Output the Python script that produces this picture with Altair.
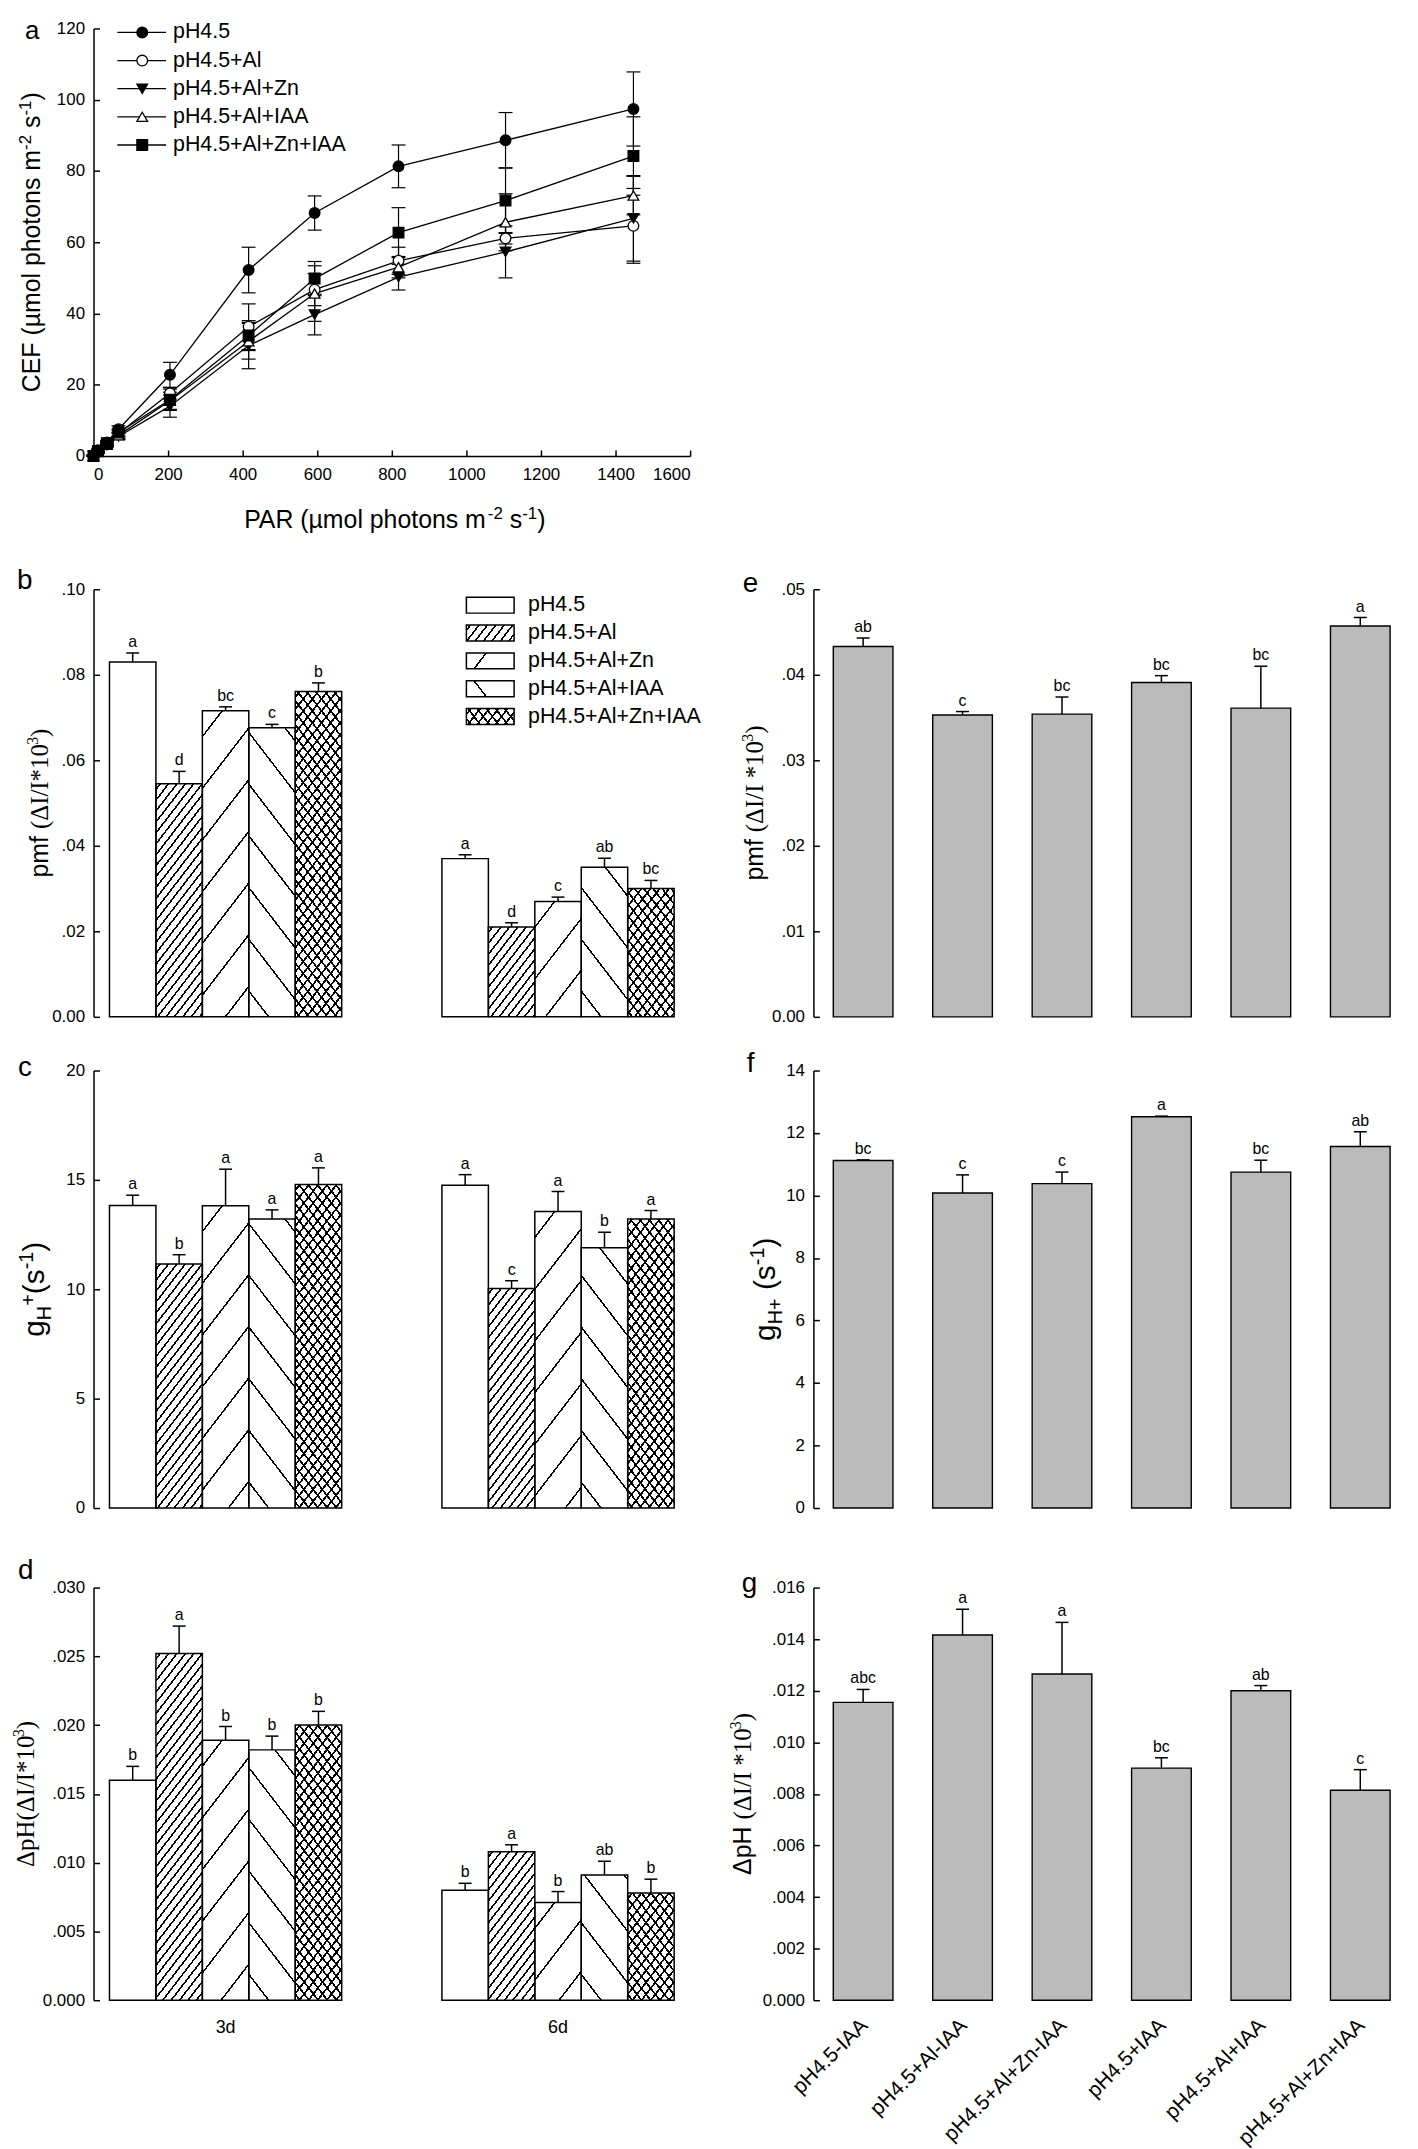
import altair as alt

SANS = "Liberation Sans"
SERIF = "Liberation Serif"

# ---------------- data ----------------
SERIES = ["pH4.5", "pH4.5+Al", "pH4.5+Al+Zn", "pH4.5+Al+IAA", "pH4.5+Al+Zn+IAA"]
PAR = [0, 12, 36, 67, 205, 416, 593, 818, 1105, 1448]
CEF_PH45 = [0, 1.6, 3.8, 7.5, 22.8, 52.2, 68.2, 81.3, 88.6, 97.4]
CEF_AL = [0, 1.3, 3.4, 6.3, 17.6, 36.3, 46.7, 54.8, 61.1, 64.6]
CEF_ZN = [0, 1.0, 3.0, 5.5, 14.0, 31.0, 39.7, 50.2, 57.3, 66.7]
CEF_IAA = [0, 1.1, 3.2, 5.8, 15.5, 32.2, 45.6, 53.0, 65.6, 73.1]
CEF_ZNIAA = [0, 1.4, 3.6, 6.6, 15.8, 33.8, 49.8, 62.7, 71.7, 84.2]
ERR_PH45 = [0.2, 0.4, 0.6, 1.0, 3.5, 6.4, 4.8, 6.0, 7.8, 10.4]
ERR_AL = [0.2, 0.4, 0.6, 0.9, 1.6, 6.4, 4.5, 3.8, 1.6, 10.5]
ERR_ZN = [0.2, 0.3, 0.5, 0.9, 3.1, 6.5, 5.7, 3.6, 7.3, 12.0]
ERR_IAA = [0.2, 0.3, 0.5, 0.9, 2.4, 5.0, 7.8, 3.0, 8.0, 5.4]
ERR_ZNIAA = [0.2, 0.4, 0.6, 1.0, 3.0, 4.2, 4.8, 7.0, 9.2, 11.0]

DAYS = ["3d", "6d"]
PMF_3D = [0.0830, 0.0545, 0.0716, 0.0676, 0.0761]
PMF_3D_ERR = [0.0021, 0.0029, 0.0009, 0.0008, 0.0020]
PMF_3D_LET = ["a", "d", "bc", "c", "b"]
PMF_6D = [0.0370, 0.0210, 0.0270, 0.0350, 0.0300]
PMF_6D_ERR = [0.0009, 0.0010, 0.0010, 0.0021, 0.0019]
PMF_6D_LET = ["a", "d", "c", "ab", "bc"]

GH_3D = [13.83, 11.16, 13.82, 13.21, 14.79]
GH_3D_ERR = [0.47, 0.42, 1.67, 0.42, 0.76]
GH_3D_LET = ["a", "b", "a", "a", "a"]
GH_6D = [14.76, 10.03, 13.55, 11.90, 13.21]
GH_6D_ERR = [0.48, 0.36, 0.92, 0.71, 0.39]
GH_6D_LET = ["a", "c", "a", "b", "a"]

DPH_3D = [0.0160, 0.0252, 0.0189, 0.0182, 0.0200]
DPH_3D_ERR = [0.0010, 0.0020, 0.0010, 0.0010, 0.0010]
DPH_3D_LET = ["b", "a", "b", "b", "b"]
DPH_6D = [0.0080, 0.0108, 0.0071, 0.0091, 0.0078]
DPH_6D_ERR = [0.0005, 0.0005, 0.0008, 0.0010, 0.0010]
DPH_6D_LET = ["b", "a", "b", "ab", "b"]

COND = ["pH4.5-IAA", "pH4.5+Al-IAA", "pH4.5+Al+Zn-IAA", "pH4.5+IAA", "pH4.5+Al+IAA", "pH4.5+Al+Zn+IAA"]
PMF_E = [0.0433, 0.0353, 0.0354, 0.0391, 0.0361, 0.0457]
PMF_E_ERR = [0.0010, 0.0004, 0.0020, 0.0008, 0.0049, 0.0010]
PMF_E_LET = ["ab", "c", "bc", "bc", "bc", "a"]
GH_F = [11.12, 10.08, 10.38, 12.52, 10.75, 11.57]
GH_F_ERR = [0.02, 0.58, 0.37, 0.02, 0.38, 0.47]
GH_F_LET = ["bc", "c", "c", "a", "bc", "ab"]
DPH_G = [0.01155, 0.01416, 0.01265, 0.00900, 0.01200, 0.00814]
DPH_G_ERR = [0.0005, 0.0010, 0.0020, 0.0004, 0.0002, 0.0008]
DPH_G_LET = ["abc", "a", "a", "bc", "ab", "c"]

# ---------------- layout constants ----------------
W = 600
H_A, H_B, H_C, H_D = 430, 430, 440, 415
ONE = alt.Data(values=[{"k": 0}])

AW = {' ': 278, '(': 333, ')': 333, '+': 584, '-': 333, '*': 389, '/': 278, '.': 278,
      'A': 667, 'C': 722, 'E': 667, 'F': 611, 'H': 722, 'I': 278, 'P': 667, 'R': 722,
      'a': 556, 'c': 500, 'f': 278, 'g': 556, 'h': 556, 'l': 222, 'm': 833, 'n': 556,
      'o': 556, 'p': 556, 's': 500, 't': 278, 'µ': 576, 'Δ': 668}
TW = {' ': 250, '(': 333, ')': 333, '*': 500, '/': 278, 'I': 333, 'Δ': 612, 'p': 500, 'H': 722}


def tw(text, font, size):
    tab = AW if font == SANS else TW
    dflt = 556 if font == SANS else 500
    return sum(tab.get(ch, dflt) for ch in text) * size / 1000.0


def rich(pieces, x, y, angle=270):
    total = sum(tw(t, f, s) for t, f, s, d in pieces)
    pos = -total / 2.0
    out = []
    for t, f, s, d in pieces:
        lead = len(t) - len(t.lstrip(' '))
        body = t.strip(' ')
        off = pos + tw(' ' * lead, f, s)
        out.append(alt.Chart(ONE).mark_text(
            text=body, font=f, fontSize=s, align='left', baseline='alphabetic',
            angle=angle, dx=off, dy=d, color='black').encode(x=alt.value(x), y=alt.value(y)))
        pos += tw(t, f, s)
    return out


def letter(ch, x, y, size=28):
    return alt.Chart(ONE).mark_text(text=ch, font=SANS, fontSize=size, align='left',
                                    baseline='middle', color='black').encode(
        x=alt.value(x), y=alt.value(y))


SLOPE = 1.3  # hatch steepness (dy/dx)


def stripes(w, h, period, kind, bg, thick):
    s = SLOPE
    L = s * w + h
    k = L / (s * s * w * w + h * h)
    if kind == "/":
        g = {"x1": 0, "y1": 0, "x2": s * k * w, "y2": k * h}
    else:
        g = {"x1": 0, "y1": 1, "x2": s * k * w, "y2": 1 - k * h}
    stops = []
    i = 0
    while True:
        c = (i + 0.5) * period
        s0 = (c - thick / 2.0) / L
        s1 = (c + thick / 2.0) / L
        if s0 >= 1:
            break
        s0 = round(max(s0, 0), 5)
        s1 = round(min(s1, 1), 5)
        stops += [{"offset": s0, "color": bg}, {"offset": s0, "color": "black"},
                  {"offset": s1, "color": "black"}, {"offset": s1, "color": bg}]
        i += 1
    if not stops:
        stops = [{"offset": 0, "color": bg}, {"offset": 1, "color": bg}]
    g["gradient"] = "linear"
    g["stops"] = stops
    return g


def hatch(t, w, h):
    h = max(h, 1.0)
    if t == "pH4.5":
        return "white", "transparent"
    if t == "pH4.5+Al":
        return stripes(w, h, 11, "/", "white", 2.6), "transparent"
    if t == "pH4.5+Al+Zn":
        return stripes(w, h, 52, "/", "white", 2.5), "transparent"
    if t == "pH4.5+Al+IAA":
        return stripes(w, h, 52, "\\", "white", 2.5), "transparent"
    return stripes(w, h, 12, "/", "white", 2.8), stripes(w, h, 12, "\\", "transparent", 2.8)


def lab_expr(fmt, zero):
    return "datum.value == 0 ? '%s' : replace(format(datum.value, '%s'), '0.', '.')" % (zero, fmt)


def y_axes(field, scale, ticks, expr):
    if expr:
        main = alt.Axis(orient='left', values=ticks, ticks=False, tickSize=0, labelPadding=9,
                        domain=True, grid=False, title=None, labelExpr=expr)
    else:
        main = alt.Axis(orient='left', values=ticks, ticks=False, tickSize=0, labelPadding=9,
                        domain=True, grid=False, title=None, format='d')
    tick = alt.Axis(orient='right', offset=-W, values=ticks, ticks=True, tickSize=6,
                    labels=False, domain=False, grid=False, title=None)
    return (alt.Y(field, scale=scale, axis=main), alt.Y(field, scale=scale, axis=tick))


# ---------------- panel a ----------------
def panel_a():
    H = H_A
    recs = []
    for s, vals, errs in zip(SERIES, [CEF_PH45, CEF_AL, CEF_ZN, CEF_IAA, CEF_ZNIAA],
                             [ERR_PH45, ERR_AL, ERR_ZN, ERR_IAA, ERR_ZNIAA]):
        for p, v, e in zip(PAR, vals, errs):
            recs.append({"series": s, "par": p, "val": v, "lo": max(v - e, 0), "hi": v + e})
    base = alt.Chart(alt.Data(values=recs))
    xs = alt.Scale(domain=[0, 1600], nice=False)
    ys = alt.Scale(domain=[0, 120], nice=False)
    xt = list(range(0, 1601, 200))
    yt = list(range(0, 121, 20))
    X_main = alt.X('par:Q', scale=xs, axis=alt.Axis(orient='bottom', values=xt, ticks=False, tickSize=0,
                                                    labelPadding=11, domain=True, grid=False, title=None,
                                                    format='d'))
    X_tick = alt.X('par:Q', scale=xs, axis=alt.Axis(orient='top', offset=-H, values=xt, ticks=True, tickSize=6,
                                                    labels=False, domain=False, grid=False, title=None))
    X_none = alt.X('par:Q', scale=xs, axis=None)
    Y_main, Y_tick = y_axes('val:Q', ys, yt, None)

    shape_s = alt.Scale(domain=SERIES, range=['circle', 'circle', 'triangle-down', 'triangle-up', 'square'])
    fill_s = alt.Scale(domain=SERIES, range=['black', 'white', 'black', 'white', 'black'])
    size_s = alt.Scale(domain=SERIES, range=[115, 115, 125, 125, 95])

    err = base.mark_rule(color='black', strokeWidth=1.2).encode(
        x=X_none, y=alt.Y('lo:Q', scale=ys, axis=None), y2='hi:Q')
    cap_hi = base.mark_tick(orient='horizontal', size=14, thickness=1.2, color='black', opacity=1).encode(
        x=X_none, y=alt.Y('hi:Q', scale=ys, axis=None))
    cap_lo = base.mark_tick(orient='horizontal', size=14, thickness=1.2, color='black', opacity=1).encode(
        x=X_none, y=alt.Y('lo:Q', scale=ys, axis=None))
    lines = base.mark_line(color='black', strokeWidth=1.3).encode(
        x=X_main, y=Y_main, detail='series:N')
    pts = base.mark_point(filled=True, stroke='black', strokeWidth=1.3, opacity=1).encode(
        x=X_tick, y=Y_tick,
        shape=alt.Shape('series:N', scale=shape_s, legend=None),
        fill=alt.Fill('series:N', scale=fill_s, legend=None),
        size=alt.Size('series:N', scale=size_s, legend=None))

    leg = alt.Chart(alt.Data(values=[{"series": s, "i": i} for i, s in enumerate(SERIES)])).transform_calculate(
        ly='4 + 28.3 * datum.i')
    leg_line = leg.mark_rule(color='black', strokeWidth=1.3).encode(
        x=alt.value(24), x2=alt.value(73), y=alt.Y('ly:Q', scale=None, axis=None))
    leg_pts = leg.mark_point(filled=True, stroke='black', strokeWidth=1.3, opacity=1).encode(
        x=alt.value(49), y=alt.Y('ly:Q', scale=None, axis=None),
        shape=alt.Shape('series:N', scale=shape_s, legend=None),
        fill=alt.Fill('series:N', scale=fill_s, legend=None),
        size=alt.Size('series:N', scale=size_s, legend=None))
    leg_txt = leg.mark_text(align='left', baseline='middle', font=SANS, fontSize=21.5, color='black').encode(
        x=alt.value(80), y=alt.Y('ly:Q', scale=None, axis=None), text='series:N')

    sup = 17
    ytitle = rich([("CEF (µmol photons m", SANS, 25, 0), ("-2", SANS, sup, -9), (" s", SANS, 25, 0),
                   ("-1", SANS, sup, -9), (")", SANS, 25, 0)], -54, H / 2, 270)
    xtitle = rich([("PAR (µmol photons m", SANS, 25, 0), ("-2", SANS, sup, -9), (" s", SANS, 25, 0),
                   ("-1", SANS, sup, -9), (")", SANS, 25, 0)], 303, H + 72, 0)
    layers = [err, cap_hi, cap_lo, lines, pts, leg_line, leg_pts, leg_txt] + ytitle + xtitle + \
        [letter("a", -69, 3, 26)]
    return alt.layer(*layers).resolve_axis(x='independent', y='independent').properties(width=W, height=H)


# ---------------- grouped bar panels (b, c, d) ----------------
PI_G, PO_G = 0.3015, 0.048


def grouped(H, v3, e3, l3, v6, e6, l6, ymax, yt, expr, title, tx, lch, lx, ly, xlabels, legend):
    stepx = W / (2 - PI_G + 2 * PO_G)
    bw = stepx * (1 - PI_G) / 5.0
    recs = []
    for day, vals, errs, lets in ((DAYS[0], v3, e3, l3), (DAYS[1], v6, e6, l6)):
        for t, v, e, l in zip(SERIES, vals, errs, lets):
            g1, g2 = hatch(t, bw, v / ymax * H)
            recs.append({"day": day, "trt": t, "val": v, "hi": v + e, "let": l, "g1": g1, "g2": g2})
    base = alt.Chart(alt.Data(values=recs))
    xs = alt.Scale(domain=DAYS, paddingInner=PI_G, paddingOuter=PO_G)
    X_main = alt.X('day:N', scale=xs, sort=DAYS,
                   axis=alt.Axis(orient='bottom', ticks=False, tickSize=0, domain=True, labels=False,
                                 grid=False, title=None))
    X_none = alt.X('day:N', scale=xs, sort=DAYS, axis=None)
    XO = alt.XOffset('trt:N', scale=alt.Scale(domain=SERIES, paddingInner=0, paddingOuter=0), sort=SERIES)
    ys = alt.Scale(domain=[0, ymax], nice=False, zero=True)
    Y_main, Y_tick = y_axes('val:Q', ys, yt, expr)

    l_fill = base.mark_bar(strokeWidth=0).encode(x=X_main, xOffset=XO, y=Y_main,
                                                 fill=alt.Fill('g1:N', scale=None))
    l_out = base.mark_bar(stroke='black', strokeWidth=1.5).encode(x=X_none, xOffset=XO, y=Y_tick,
                                                                  fill=alt.Fill('g2:N', scale=None))
    l_err = base.mark_rule(color='black', strokeWidth=1.5).encode(
        x=X_none, xOffset=XO, y=alt.Y('val:Q', scale=ys, axis=None), y2='hi:Q')
    l_cap = base.mark_tick(orient='horizontal', size=13, thickness=1.5, color='black', opacity=1).encode(
        x=X_none, xOffset=XO, y=alt.Y('hi:Q', scale=ys, axis=None))
    l_let = base.mark_text(baseline='bottom', dy=-3, font=SANS, fontSize=16, color='black').encode(
        x=X_none, xOffset=XO, y=alt.Y('hi:Q', scale=ys, axis=None), text='let:N')
    layers = [l_fill, l_out, l_err, l_cap, l_let]

    if xlabels:
        layers.append(alt.Chart(alt.Data(values=[{"day": d} for d in DAYS])).mark_text(
            baseline='middle', font=SANS, fontSize=18, color='black').encode(
            x=X_none, y=alt.value(H + 28), text='day:N'))

    if legend:
        lrecs = []
        for i, t in enumerate(SERIES):
            g1, g2 = hatch(t, 48, 16)
            lrecs.append({"name": t, "i": i, "g1": g1, "g2": g2})
        lb = alt.Chart(alt.Data(values=lrecs)).transform_calculate(
            y0='8 + 28 * datum.i', y1='24 + 28 * datum.i', yc='16 + 28 * datum.i')
        layers.append(lb.mark_rect(strokeWidth=0).encode(
            x=alt.value(375), x2=alt.value(423), y=alt.Y('y0:Q', scale=None, axis=None), y2='y1:Q',
            fill=alt.Fill('g1:N', scale=None)))
        layers.append(lb.mark_rect(stroke='black', strokeWidth=1.5).encode(
            x=alt.value(375), x2=alt.value(423), y=alt.Y('y0:Q', scale=None, axis=None), y2='y1:Q',
            fill=alt.Fill('g2:N', scale=None)))
        layers.append(lb.mark_text(align='left', baseline='middle', font=SANS, fontSize=21.5, color='black').encode(
            x=alt.value(437), y=alt.Y('yc:Q', scale=None, axis=None), text='name:N'))

    layers += rich(title, tx, H / 2, 270)
    layers.append(letter(lch, lx, ly))
    return alt.layer(*layers).resolve_axis(y='independent').properties(width=W, height=H)


# ---------------- single bar panels (e, f, g) ----------------
def single(H, vals, errs, lets, ymax, yt, expr, title, tx, lch, lx, ly, xlabels):
    recs = [{"cond": c, "val": v, "hi": v + e, "let": l} for c, v, e, l in zip(COND, vals, errs, lets)]
    base = alt.Chart(alt.Data(values=recs))
    xs = alt.Scale(domain=COND, paddingInner=0.4, paddingOuter=0.2)
    X_main = alt.X('cond:N', scale=xs, sort=COND,
                   axis=alt.Axis(orient='bottom', ticks=False, tickSize=0, domain=True, labels=False,
                                 grid=False, title=None))
    X_none = alt.X('cond:N', scale=xs, sort=COND, axis=None)
    ys = alt.Scale(domain=[0, ymax], nice=False, zero=True)
    Y_main, Y_tick = y_axes('val:Q', ys, yt, expr)
    bars = base.mark_bar(fill='#bbbbbb', strokeWidth=0).encode(x=X_main, y=Y_main)
    outl = base.mark_bar(fillOpacity=0, stroke='black', strokeWidth=1.4).encode(x=X_none, y=Y_tick)
    l_err = base.mark_rule(color='black', strokeWidth=1.5).encode(
        x=X_none, y=alt.Y('val:Q', scale=ys, axis=None), y2='hi:Q')
    l_cap = base.mark_tick(orient='horizontal', size=13, thickness=1.5, color='black', opacity=1).encode(
        x=X_none, y=alt.Y('hi:Q', scale=ys, axis=None))
    l_let = base.mark_text(baseline='bottom', dy=-3, font=SANS, fontSize=16, color='black').encode(
        x=X_none, y=alt.Y('hi:Q', scale=ys, axis=None), text='let:N')
    layers = [bars, outl, l_err, l_cap, l_let]
    if xlabels:
        layers.append(alt.Chart(alt.Data(values=[{"cond": c} for c in COND])).mark_text(
            align='right', baseline='middle', angle=315, dx=2, font=SANS, fontSize=21, color='black').encode(
            x=X_none, y=alt.value(H + 24), text='cond:N'))
    layers += rich(title, tx, H / 2, 270) + [letter(lch, lx, ly)]
    return alt.layer(*layers).resolve_axis(y='independent').properties(width=W, height=H)


def spacer(h):
    return alt.Chart(ONE).mark_point(opacity=0, size=1).encode(
        x=alt.value(0), y=alt.value(0)).properties(width=W, height=h)


PMF_T = [0, 0.02, 0.04, 0.06, 0.08, 0.10]
GH_T = [0, 5, 10, 15, 20]
DPH_T = [0, 0.005, 0.010, 0.015, 0.020, 0.025, 0.030]
PMF_E_T = [0, 0.01, 0.02, 0.03, 0.04, 0.05]
GH_F_T = [0, 2, 4, 6, 8, 10, 12, 14]
DPH_G_T = [0, 0.002, 0.004, 0.006, 0.008, 0.010, 0.012, 0.014, 0.016]

T_PMF_B = [("pmf ", SANS, 25, 0), ("(ΔI/I*10", SERIF, 25, 0), ("3", SERIF, 16, -10), (")", SERIF, 25, 0)]
T_GH_C = [("g", SANS, 30, 0), ("H", SANS, 20, 7), ("+", SANS, 20, -9), ("(s", SANS, 30, 0),
          ("-1", SANS, 20, -11), (")", SANS, 30, 0)]
T_DPH_D = [("ΔpH(ΔI/I*10", SERIF, 25, 0), ("3", SERIF, 16, -10), (")", SERIF, 25, 0)]
T_PMF_E = [("pmf ", SANS, 25, 0), ("(ΔI/I *10", SERIF, 25, 0), ("3", SERIF, 16, -10), (")", SERIF, 25, 0)]
T_GH_F = [("g", SANS, 30, 0), ("H+", SANS, 20, 7), (" (s", SANS, 30, 0), ("-1", SANS, 20, -11),
          (")", SANS, 30, 0)]
T_DPH_G = [("ΔpH ", SANS, 25, 0), ("(ΔI/I *10", SERIF, 25, 0), ("3", SERIF, 16, -10), (")", SERIF, 25, 0)]

pa = panel_a()
pb = grouped(H_B, PMF_3D, PMF_3D_ERR, PMF_3D_LET, PMF_6D, PMF_6D_ERR, PMF_6D_LET, 0.10, PMF_T,
             lab_expr('.2f', '0.00'), T_PMF_B, -46, "b", -77, -8, False, True)
pc = grouped(H_C, GH_3D, GH_3D_ERR, GH_3D_LET, GH_6D, GH_6D_ERR, GH_6D_LET, 20, GH_T,
             None, T_GH_C, -50, "c", -76, -2, False, False)
pd_ = grouped(H_D, DPH_3D, DPH_3D_ERR, DPH_3D_LET, DPH_6D, DPH_6D_ERR, DPH_6D_LET, 0.030, DPH_T,
              lab_expr('.3f', '0.000'), T_DPH_D, -60, "d", -76, -17, True, False)
pe = single(H_B, PMF_E, PMF_E_ERR, PMF_E_LET, 0.05, PMF_E_T, lab_expr('.2f', '0.00'), T_PMF_E, -51,
            "e", -71, -5, False)
pf = single(H_C, GH_F, GH_F_ERR, GH_F_LET, 14, GH_F_T, None, T_GH_F, -39, "f", -67, -7, False)
pg = single(H_D, DPH_G, DPH_G_ERR, DPH_G_LET, 0.016, DPH_G_T, lab_expr('.3f', '0.000'), T_DPH_G, -63,
            "g", -72, -4, True)

chart = alt.concat(
    pa, spacer(1),
    spacer(134), spacer(134),
    pb, pe,
    spacer(54), spacer(54),
    pc, pf,
    spacer(80), spacer(80),
    pd_, pg,
    columns=2, spacing={"row": 0, "column": 124}, bounds='flush'
).properties(
    padding={"left": 3, "top": 4, "right": 0, "bottom": 160}
).configure(font=SANS).configure_axis(
    labelFont=SANS, labelFontSize=17, labelColor='black', domainColor='black', domainWidth=1.5,
    tickColor='black', tickWidth=1.5, labelLimit=400
).configure_view(strokeWidth=0)

chart.save("out.html", embed_options={"renderer": "svg", "actions": False})
